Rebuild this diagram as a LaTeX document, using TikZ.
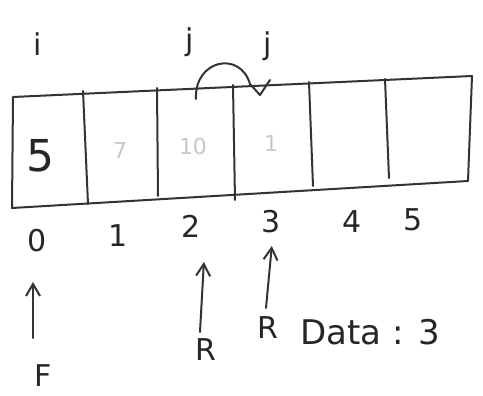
\documentclass[tikz,border=0pt]{standalone}
\usepackage{fontspec}
\setmainfont{DejaVu Sans}
\usetikzlibrary{arrows.meta}
\begin{document}
\begin{tikzpicture}[x=1pt,y=-1pt,
  ink/.style={draw=black!80, line width=2pt, line cap=round, line join=round},
  lbl/.style={inner sep=0pt, font=\fontsize{30}{30}\selectfont\selectfont, text=black!85},
  ghost/.style={inner sep=0pt, font=\fontsize{22}{22}\selectfont, text=black!22},
  ptr/.style={ink, -{Straight Barb[length=12pt,width=14pt,line width=2pt]}, shorten >=2pt}]
\useasboundingbox (0,0) rectangle (483,396);
% box corners
\coordinate (tl) at (13,97);
\coordinate (tr) at (472,76);
\coordinate (br) at (468,181);
\coordinate (bl) at (12,208);
\draw[ink] (tl) -- (tr) -- (br) -- (bl) -- cycle;
% dividers
\coordinate (d1t) at (83,91);  \coordinate (d1b) at (88,204);
\coordinate (d2t) at (157,88); \coordinate (d2b) at (158,196);
\coordinate (d3t) at (233,85); \coordinate (d3b) at (235,200);
\coordinate (d4t) at (309,82); \coordinate (d4b) at (313,186);
\coordinate (d5t) at (385,79); \coordinate (d5b) at (389,178);
\foreach \k in {1,...,5} \draw[ink] (d\k t) -- (d\k b);
% cell contents
\node[inner sep=0pt, font=\fontsize{44}{44}\selectfont, text=black!85] (c0) at (40,156) {5};
\node[ghost] (c1) at (120,150) {7};
\node[ghost] (c2) at (193,146) {10};
\node[ghost] (c3) at (271,143) {1};
% top labels
\node[lbl] (li) at (38,44) {i};
\node[lbl] (lj1) at (190,42) {j};
\node[lbl] (lj2) at (268,46) {j};
% swap arc
\coordinate (a0) at (196,99);
\coordinate (a1) at (250,84);
\coordinate (a2) at (260,95);
\coordinate (a3) at (270,80);
\draw[ink] (a0) .. controls (194,60) and (240,50) .. (a1) -- (a2) -- (a3);
% index labels
\node[lbl] (i0) at (37,241) {0};
\node[lbl] (i1) at (118,236) {1};
\node[lbl] (i2) at (191,226) {2};
\node[lbl] (i3) at (271,222) {3};
\node[lbl] (i4) at (352,222) {4};
\node[lbl] (i5) at (413,220) {5};
% pointer labels
\node[lbl] (F) at (43,376) {F};
\node[lbl] (R1) at (206,350) {R};
\node[lbl] (R2) at (268,328) {R};
\node[lbl, anchor=west, font=\fontsize{34}{34}\selectfont] (data) at (300,332) {Data : 3};
% pointer arrows
\coordinate (fs) at (33,338);
\coordinate (r1s) at (200,332);
\coordinate (r2s) at (266,308);
\draw[ptr] (fs) -- (33,280);
\draw[ptr] (r1s) -- (204,260);
\draw[ptr] (r2s) -- (272,244);
\end{tikzpicture}
\end{document}
